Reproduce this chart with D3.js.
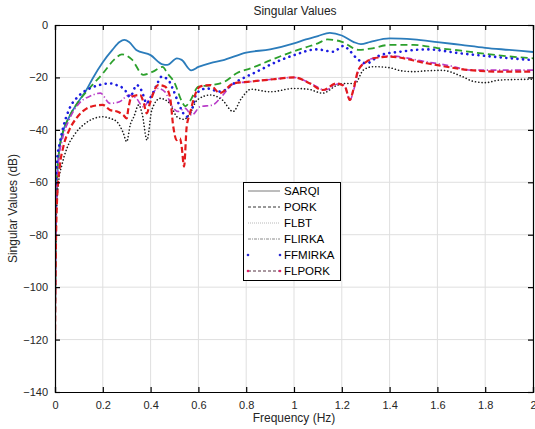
<!DOCTYPE html>
<html>
<head>
<meta charset="utf-8">
<script src="https://cdn.jsdelivr.net/npm/d3@7"></script>
<style>
  body { margin: 0; background: #fff; }
  svg { font-family: "Liberation Sans", Arial, sans-serif; }
</style>
</head>
<body>
<svg id="chart"></svg>
<script>
// values

var sarqiF  = [0, 0.003, 0.008, 0.015, 0.03, 0.06, 0.1, 0.13, 0.16, 0.2, 0.24, 0.27, 0.29, 0.31, 0.34, 0.4, 0.45, 0.47, 0.51, 0.53, 0.57, 0.6, 0.65, 0.7, 0.8, 0.9, 1.0, 1.05, 1.1, 1.15, 1.2, 1.25, 1.28, 1.32, 1.4, 1.5, 1.6, 1.7, 1.8, 1.9, 2.0];
var sarqiDb = [-118, -80, -60, -50, -42, -35, -29, -25, -20, -14.2, -9.5, -6.5, -5.7, -6.5, -9.5, -11.5, -15, -15.2, -12.7, -13.3, -17.3, -16, -14.5, -13.5, -10.5, -9.3, -7, -5.5, -4.2, -3, -4, -6.5, -7.3, -6.4, -5.1, -5.5, -6.5, -7.6, -8.7, -9.5, -10.3];

var porkF  = [0, 0.003, 0.008, 0.015, 0.03, 0.06, 0.1, 0.15, 0.2, 0.25, 0.28, 0.32, 0.37, 0.41, 0.45, 0.47, 0.5, 0.53, 0.545, 0.565, 0.6, 0.66, 0.71, 0.76, 0.82, 0.9, 1.0, 1.05, 1.1, 1.14, 1.2, 1.27, 1.32, 1.4, 1.5, 1.6, 1.7, 1.8, 1.9, 2.0];
var porkDb = [-118, -80, -60, -50, -42, -35, -29, -23.5, -18.5, -13, -11.2, -13, -19, -17.8, -16, -18.4, -22, -29, -31, -29, -23.5, -22.9, -21.6, -18.4, -16.5, -13.5, -10, -8.5, -7, -5.5, -6.4, -9.5, -9, -7.6, -7.6, -8.8, -9.8, -11, -12, -12.7];

var flbtF  = [0, 0.003, 0.008, 0.015, 0.03, 0.05, 0.08, 0.12, 0.2, 0.23, 0.26, 0.285, 0.3, 0.315, 0.33, 0.35, 0.365, 0.385, 0.405, 0.44, 0.48, 0.51, 0.54, 0.565, 0.595, 0.65, 0.7, 0.745, 0.78, 0.82, 0.9, 1.0, 1.06, 1.12, 1.18, 1.22, 1.255, 1.29, 1.33, 1.4, 1.45, 1.5, 1.55, 1.62, 1.7, 1.75, 1.8, 1.86, 1.93, 2.0];
var flbtDb = [-118, -85, -68, -60, -53, -47, -42, -38, -35, -35.6, -37, -41, -44.5, -38, -35, -30.5, -34, -43.9, -32.4, -28, -29.9, -35, -36, -33.7, -28.6, -26.7, -28.6, -33, -28, -24.5, -25.5, -24.2, -24.5, -26, -23, -22.3, -22.3, -17.2, -15.9, -16.3, -17.5, -17.8, -17.5, -17.3, -19.5, -21.5, -22, -21, -20.8, -20.7];

var flirkaF  = [0, 0.003, 0.008, 0.015, 0.03, 0.06, 0.1, 0.15, 0.19, 0.23, 0.27, 0.31, 0.34, 0.37, 0.4, 0.43, 0.46, 0.49, 0.515, 0.545, 0.572, 0.607, 0.66, 0.7, 0.75, 0.82, 0.91, 1.0, 1.07, 1.13, 1.19, 1.213, 1.234, 1.25, 1.27, 1.3, 1.33, 1.4, 1.55, 1.65, 1.74, 1.85, 2.0];
var flirkaDb = [-118, -85, -62, -52, -44, -36, -30, -27, -26, -29.9, -29.3, -26.7, -28, -31.2, -27.4, -24.2, -25.5, -31, -33, -31.8, -34.4, -31.2, -30.5, -27, -22.3, -21.6, -20.7, -20, -22.3, -24.8, -22.3, -23.5, -28.6, -24.8, -17.2, -14, -12.7, -11.8, -14, -15.5, -17.2, -17.2, -17.2];

var ffmirkaF  = [0, 0.003, 0.008, 0.02, 0.035, 0.06, 0.1, 0.15, 0.19, 0.23, 0.26, 0.29, 0.314, 0.342, 0.362, 0.384, 0.404, 0.425, 0.446, 0.474, 0.495, 0.523, 0.551, 0.572, 0.593, 0.635, 0.69, 0.76, 0.844, 0.928, 1.0, 1.095, 1.165, 1.206, 1.235, 1.262, 1.304, 1.36, 1.444, 1.555, 1.695, 1.8, 1.904, 2.0];
var ffmirkaDb = [-80, -62, -52, -45, -38.8, -32, -27, -24, -22.8, -22.3, -23, -24.5, -27.4, -22.9, -25, -29.9, -27, -23, -19.7, -21, -24.8, -31.2, -35, -32.4, -26, -24.2, -25.4, -21.6, -17.8, -14, -11.5, -9.3, -10.2, -8, -10, -12.7, -14.6, -11.5, -10.2, -9.3, -10.8, -11.8, -12.7, -13.4];

var flporkF  = [0, 0.003, 0.008, 0.02, 0.035, 0.06, 0.09, 0.13, 0.16, 0.2, 0.23, 0.26, 0.286, 0.3, 0.307, 0.32, 0.356, 0.372, 0.384, 0.397, 0.432, 0.46, 0.481, 0.495, 0.509, 0.523, 0.53, 0.54, 0.551, 0.565, 0.579, 0.607, 0.649, 0.69, 0.746, 0.816, 0.913, 1.0, 1.067, 1.12, 1.178, 1.213, 1.234, 1.248, 1.269, 1.304, 1.332, 1.402, 1.555, 1.736, 1.862, 2.0];
var flporkDb = [-120, -90, -68, -54, -46.4, -40, -35.5, -32, -30.9, -30.5, -32.4, -33, -34.4, -35.6, -31.8, -27.4, -26.7, -30, -33.7, -29.9, -22.9, -23.5, -27.4, -38.8, -43.9, -43.2, -46.4, -54, -38.8, -33.7, -28.6, -23.5, -22.9, -26, -22.3, -21.6, -20.7, -20, -22.3, -24.8, -22.3, -23.5, -28.6, -24.8, -17.2, -14, -12.7, -12.1, -14.6, -17.2, -17.8, -17.8];

var seriesNames = ["SARQI", "PORK", "FLBT", "FLIRKA", "FFMIRKA", "FLPORK"];
var xTicks = [0, 0.2, 0.4, 0.6, 0.8, 1, 1.2, 1.4, 1.6, 1.8, 2];
var yTicks = [0, -20, -40, -60, -80, -100, -120, -140];

// settings

var svgWidth = 535;
var svgHeight = 429;
var plotLeft = 55, plotRight = 533, plotTop = 25, plotBottom = 392;

var svg = d3.select('#chart')
            .attr('width', svgWidth)
            .attr('height', svgHeight);

var x = d3.scaleLinear().domain([0, 2]).range([plotLeft, plotRight]);
var y = d3.scaleLinear().domain([-140, 0]).range([plotBottom, plotTop]);

// grid

svg.append('g').selectAll('line')
    .data(xTicks.slice(1, -1))
    .enter().append('line')
    .attr('x1', d => x(d)).attr('x2', d => x(d))
    .attr('y1', plotTop).attr('y2', plotBottom)
    .attr('stroke', '#dfdfdf').attr('stroke-width', 1);

svg.append('g').selectAll('line')
    .data(yTicks.slice(1, -1))
    .enter().append('line')
    .attr('x1', plotLeft).attr('x2', plotRight)
    .attr('y1', d => y(d)).attr('y2', d => y(d))
    .attr('stroke', '#dfdfdf').attr('stroke-width', 1);

// curves

svg.append('clipPath').attr('id', 'plotclip')
    .append('rect')
    .attr('x', plotLeft).attr('y', plotTop)
    .attr('width', plotRight - plotLeft).attr('height', plotBottom - plotTop);

var series = [
    { f: sarqiF,   v: sarqiDb,   color: '#2b7cbb', w: 1.8, dash: null,           cap: 'butt' },
    { f: porkF,    v: porkDb,    color: '#2ca02c', w: 1.8, dash: '7,4',          cap: 'butt' },
    { f: flbtF,    v: flbtDb,    color: '#1a1a1a', w: 1.6, dash: '0.1,3.2',      cap: 'round' },
    { f: flirkaF,  v: flirkaDb,  color: '#b83cc8', w: 1.6, dash: '6,2.5,1.2,2.5', cap: 'butt' },
    { f: ffmirkaF, v: ffmirkaDb, color: '#1c1ce0', w: 2.6, dash: '0.1,5.5',      cap: 'round' },
    { f: flporkF,  v: flporkDb,  color: '#e31a1c', w: 2.2, dash: '6,3',          cap: 'butt' }
];

var line = d3.line()
    .x(d => x(d[0]))
    .y(d => y(d[1]))
    .curve(d3.curveMonotoneX);

var curves = svg.append('g').attr('clip-path', 'url(#plotclip)');

series.forEach(function(s) {
    var pts = s.f.map((f, i) => [f, s.v[i]]);
    curves.append('path')
        .datum(pts)
        .attr('d', line)
        .attr('fill', 'none')
        .attr('stroke', s.color)
        .attr('stroke-width', s.w)
        .attr('stroke-dasharray', s.dash)
        .attr('stroke-linecap', s.cap)
        .attr('stroke-linejoin', 'round');
});

// axes (MATLAB style box with inward ticks)

var xAxis = d3.axisBottom(x).tickValues(xTicks).tickSize(-5).tickPadding(9).tickFormat(d3.format('~g'));
var yAxis = d3.axisLeft(y).tickValues(yTicks).tickSize(-5).tickPadding(7).tickFormat(d3.format('~g'));

var gx = svg.append('g').attr('transform', 'translate(0,' + plotBottom + ')').call(xAxis);
var gy = svg.append('g').attr('transform', 'translate(' + plotLeft + ',0)').call(yAxis);
var gxTop = svg.append('g').attr('transform', 'translate(0,' + plotTop + ')')
    .call(d3.axisTop(x).tickValues(xTicks).tickSize(-5).tickFormat(''));
var gyRight = svg.append('g').attr('transform', 'translate(' + plotRight + ',0)')
    .call(d3.axisRight(y).tickValues(yTicks).tickSize(-5).tickFormat(''));

[gx, gy, gxTop, gyRight].forEach(function(g) {
    g.select('.domain').attr('stroke', '#000').attr('stroke-width', 1.2);
    g.selectAll('.tick line').attr('stroke', '#000').attr('stroke-width', 1.2);
    g.selectAll('.tick text').attr('fill', '#262626').style('font-size', '11px')
        .style('font-family', '"Liberation Sans", Arial, sans-serif');
});

// titles

svg.append('text')
    .attr('x', (plotLeft + plotRight) / 2 + 1).attr('y', 15)
    .attr('text-anchor', 'middle')
    .style('font-size', '12px').attr('fill', '#222')
    .text('Singular Values');

svg.append('text')
    .attr('x', (plotLeft + plotRight) / 2).attr('y', 422)
    .attr('text-anchor', 'middle')
    .style('font-size', '12px').attr('fill', '#262626')
    .text('Frequency (Hz)');

svg.append('text')
    .attr('transform', 'translate(17,' + (plotTop + plotBottom) / 2 + ') rotate(-90)')
    .attr('text-anchor', 'middle')
    .style('font-size', '12px').attr('fill', '#262626')
    .text('Singular Values (dB)');

// legend

var legend = svg.append('g');
legend.append('rect')
    .attr('x', 243.5).attr('y', 182.5)
    .attr('width', 97).attr('height', 98)
    .attr('fill', '#fff').attr('stroke', '#000').attr('stroke-width', 1);

var legendStyle = [
    { color: '#7a7a7a', dash: null,        w: 1 },
    { color: '#333',    dash: '3,2',       w: 1 },
    { color: '#b8b8b8', dash: '1,1',       w: 1 },
    { color: '#8a8a8a', dash: '3,1,1,1',   w: 1 },
    { color: 'none',    dash: null,        w: 1, dot: '#2a2ad0' },
    { color: '#553040', dash: '3,2',       w: 1, dot: '#e0206a' }
];

var rows = legend.selectAll('g.row')
    .data(seriesNames)
    .enter().append('g')
    .attr('class', 'row')
    .attr('transform', (d, i) => 'translate(0,' + (191 + i * 16) + ')');

rows.append('line')
    .attr('x1', 248).attr('x2', 280)
    .attr('y1', 0).attr('y2', 0)
    .attr('stroke', (d, i) => legendStyle[i].color)
    .attr('stroke-width', (d, i) => legendStyle[i].w)
    .attr('stroke-dasharray', (d, i) => legendStyle[i].dash);

rows.filter((d, i) => legendStyle[i].dot)
    .selectAll('circle')
    .data((d, i) => [[248, legendStyle[seriesNames.indexOf(d)].dot], [280, legendStyle[seriesNames.indexOf(d)].dot]])
    .enter().append('circle')
    .attr('cx', d => d[0]).attr('cy', 0).attr('r', 1.3)
    .attr('fill', d => d[1]);

rows.append('text')
    .attr('x', 284).attr('y', 4)
    .style('font-size', '11.5px').attr('fill', '#000')
    .text(d => d);
</script>
</body>
</html>
